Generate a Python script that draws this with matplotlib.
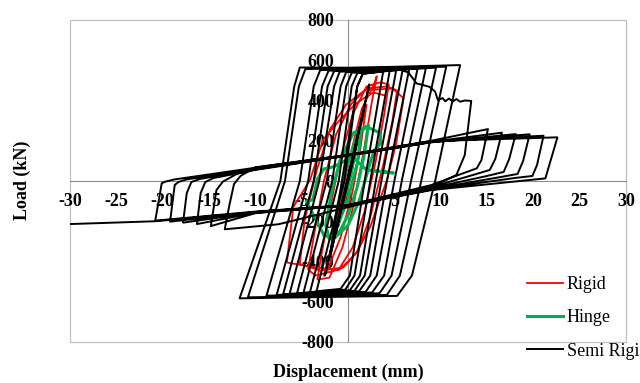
import matplotlib
matplotlib.use("Agg")
import matplotlib.pyplot as plt
from matplotlib.patches import Rectangle

plt.rcParams["font.family"] = ["Liberation Serif", "DejaVu Serif"]

# Rigid joint: load (kN) vs displacement (mm)
rigid_disp = [0, 0.9, 0.5, -0.6, -1.0, -0.5, 0.5,
              2.0, 1.3, 0.5, -0.8, -2.2, -2.6, -1.8, -0.8, 0.2, 1.5, 2.8,
              3.1, 2.6, 1.7, 0.6, -0.6, -2.0, -3.3, -3.0, -2.0, -0.9, 0.5, 2.0, 3.5,
              4.4, 3.9, 3.0, 1.8, 0.5, -1.0, -3.5, -4.3, -3.6, -2.6, -1.3, 0.3, 2.0, 4.2,
              5.3, 4.8, 3.8, 2.4, 1.0, -0.5, -3.0, -5.2, -4.7, -3.4, -1.9, -0.2, 1.8, 4.8,
              6.0, 5.2, 4.2, 2.4, 0.9, -0.9, -3.5, -6.6, -5.9, -4.1, -2.7, -0.9, 0.9, 2.7, 4.0]
rigid_load = [0, 180, 60, -150, -220, -90, 120,
              380, 150, -50, -280, -440, -470, -330, -100, 120, 360, 480,
              520, 400, 150, -120, -330, -480, -490, -400, -150, 100, 330, 470, 490,
              480, 330, 100, -150, -330, -440, -470, -440, -250, 0, 230, 380, 460, 470,
              450, 300, 80, -180, -350, -430, -445, -412, -200, 50, 260, 380, 450, 460,
              411, 187, 5, -227, -359, -440, -430, -405, -129, 5, 204, 303, 387, 440, 425]

# Hinge joint
hinge_disp = [0, 0.7, 0.3, -0.6, -0.2, 0.9,
              1.4, 1.0, 0.0, -1.2, -1.6, -1.1, -0.2, 1.0,
              2.2, 1.8, 1.0, 0.0, -1.0, -2.0, -2.4, -1.8, -0.8, 0.6, 2.0,
              3.5, 3.5, 2.8, 2.2, 1.2, 0.0, -1.5, -2.6, -3.6, -4.5, -3.8, -3.3, -2.6, -1.6,
              0.5, 2.0, 4.9, 3.0]
hinge_load = [0, 130, 30, -120, -20, 180,
              240, 90, -90, -230, -260, -120, 60, 230,
              278, 140, -30, -170, -260, -290, -220, -60, 110, 240, 270,
              238, 185, 150, 60, -100, -220, -285, -270, -180, -100, -94, 10, 60, 70,
              120, 55, 40, 50]

# Semi rigid joint: elastic start, 10 yielding cycles, failure, then degraded cycles
semi_disp = [0, 1.0, 0.6, -1.3, -0.9, 1.7, 1.3, -1.9, -1.5, 2.3, 1.9, -2.5, -2.0, 1.0, 1.6,
             3.8, 1.8, 0.2, -0.8, -3.4, -0.4, 1.0, 1.6,
             4.5, 2.4, 0.7, -0.3, -4.1, -1.0, 0.4, 1.0,
             5.2, 3.0, 1.3, 0.2, -4.8, -1.7, -0.2, 0.4,
             5.9, 3.6, 1.8, 0.7, -5.5, -2.3, -0.8, -0.2,
             6.6, 4.2, 2.4, 1.2, -6.3, -3.1, -1.5, -0.9,
             7.5, 5.0, 3.1, 1.9, -7.0, -3.7, -2.2, -1.5,
             8.4, 5.8, 3.9, 2.6, -7.7, -4.3, -2.8, -2.1,
             9.5, 6.8, 4.7, 3.4, -8.8, -5.2, -3.7, -3.0,
             10.6, 7.9, 5.6, 4.2, -10.8, -6.8, -5.3, -4.6,
             12.1, 9.4, 6.9, 5.3, -11.7, -7.3, -5.8, -5.2,
             5.0, 6.5, 7.4, 8.8, 9.4, 9.7, 10.2, 10.5, 10.9, 11.3, 11.7, 12.1, 12.6, 13.3,
             12.6, 11.7, 9.0, 5.0, 0.0, -7.5, -13.3,
             -12.8, -12.3, -11.6, -10.0, 0.0, 9.0, 15.1,
             14.4, 13.9, 12.4, 9.0, 5.0, 0.0, -10.0, -14.8,
             -14.2, -13.5, -12.0, -10.0, 0.0, 9.0, 16.6,
             15.9, 15.3, 13.5, 9.0, 5.0, 0.0, -10.0, -16.3,
             -15.9, -15.4, -14.5, -10.0, 0.0, 9.0, 18.1,
             17.4, 16.8, 15.0, 9.0, 5.0, 0.0, -10.0, -17.8,
             -17.4, -16.9, -16.0, -10.0, 0.0, 9.0, 19.6,
             18.9, 18.3, 16.5, 9.0, 5.0, 0.0, -10.0, -19.2,
             -18.7, -18.3, -17.4, -10.0, 0.0, 9.0, 21.1,
             20.4, 19.9, 18.0, 9.0, 5.0, 0.0, -10.0, -20.8,
             -20.1, -19.7, -18.7, -10.0, 0.0, 9.0, 22.6,
             21.3, 9.0, 5.0, 0.0, -10.0, -20.8, -30.0]
semi_load = [0, 200, 110, -260, -170, 350, 270, -370, -290, 480, 400, -470, -380, 470, 533,
             545, 0, -470, -536, -548, 0, 470, 533,
             548, 0, -470, -540, -552, 0, 470, 536,
             550, 0, -470, -543, -555, 0, 470, 538,
             553, 0, -470, -546, -558, 0, 470, 541,
             555, 0, -470, -548, -560, 0, 470, 543,
             558, 0, -470, -551, -563, 0, 470, 546,
             560, 0, -470, -554, -566, 0, 470, 548,
             563, 0, -470, -558, -570, 0, 470, 551,
             568, 0, -470, -566, -578, 0, 470, 556,
             576, 0, -470, -571, -583, 0, 470, 564,
             562, 540, 485, 468, 444, 402, 412, 396, 410, 395, 407, 394, 400, 398,
             129, 30, -30, -75, -130, -215, -240,
             -120, -15, 25, 68, 130, 200, 258,
             104, 63, 38, -20, -65, -120, -160, -224,
             -45, -3, 35, 62, 128, 195, 240,
             110, 55, 30, -30, -70, -122, -158, -214,
             -60, -5, 15, 55, 126, 192, 233,
             110, 45, 25, -35, -75, -121, -156, -207,
             -60, -5, 10, 58, 127, 194, 232,
             100, 35, 20, -40, -76, -120, -154, -202,
             -20, -5, 8, 62, 128, 196, 225,
             80, 25, 15, -43, -78, -119, -152, -197,
             -11, -3, 8, 66, 130, 198, 217,
             13, -45, -80, -120, -155, -200, -214]

x_ticks = [-30, -25, -20, -15, -10, -5, 0, 5, 10, 15, 20, 25, 30]
y_ticks = [-800, -600, -400, -200, 0, 200, 400, 600, 800]

fig = plt.figure(figsize=(6.4, 3.83), dpi=100)
ax = fig.add_axes([70 / 640, 1 - 342 / 383, 556 / 640, 322 / 383])
ax.set_xlim(-30, 30)
ax.set_ylim(-800, 800)

ax.plot(rigid_disp, rigid_load, color="#ff0000", lw=1.3, zorder=3, label="Rigid")
ax.plot(hinge_disp, hinge_load, color="#00b050", lw=2.2, zorder=3.1, label="Hinge")
ax.plot(semi_disp, semi_load, color="black", lw=1.4, zorder=3.2, label="Semi Rigid")

# axes cross at the origin, grey frame round the plot area
for side in ("top", "right"):
    ax.spines[side].set_visible(False)
for side in ("left", "bottom"):
    ax.spines[side].set_position(("data", 0))
    ax.spines[side].set_color("#8c8c8c")
    ax.spines[side].set_linewidth(0.8)
ax.add_patch(Rectangle((0, 0), 1, 1, transform=ax.transAxes, fill=False,
                       edgecolor="#c0c0c0", lw=0.9, clip_on=False, zorder=1))

tick_font = dict(fontsize=13, fontweight="bold")
ax.set_xticks(x_ticks)
ax.set_xticklabels([str(v) for v in x_ticks], **tick_font)
ax.set_yticks(y_ticks)
ax.set_yticklabels([str(v) for v in y_ticks], **tick_font)
ax.tick_params(axis="x", length=0, pad=9)
ax.tick_params(axis="y", length=0, pad=10)

fig.text(348 / 640, 1 - 372 / 383, "Displacement (mm)", ha="center", va="center",
         fontsize=13, fontweight="bold")
fig.text(22 / 640, 1 - 180 / 383, "Load (kN)", ha="center", va="center",
         rotation=90, fontsize=13, fontweight="bold")

# the reference legend runs past the right edge, so "Semi Rigid" is cut there
ax.legend(loc="upper left", bbox_to_anchor=(527 / 640, 1 - 276 / 383),
          bbox_transform=fig.transFigure, frameon=False, fontsize=13,
          handlelength=2.0, handletextpad=0.2, labelspacing=0.9,
          borderpad=0, borderaxespad=0)

fig.savefig("out.png", dpi=100)
